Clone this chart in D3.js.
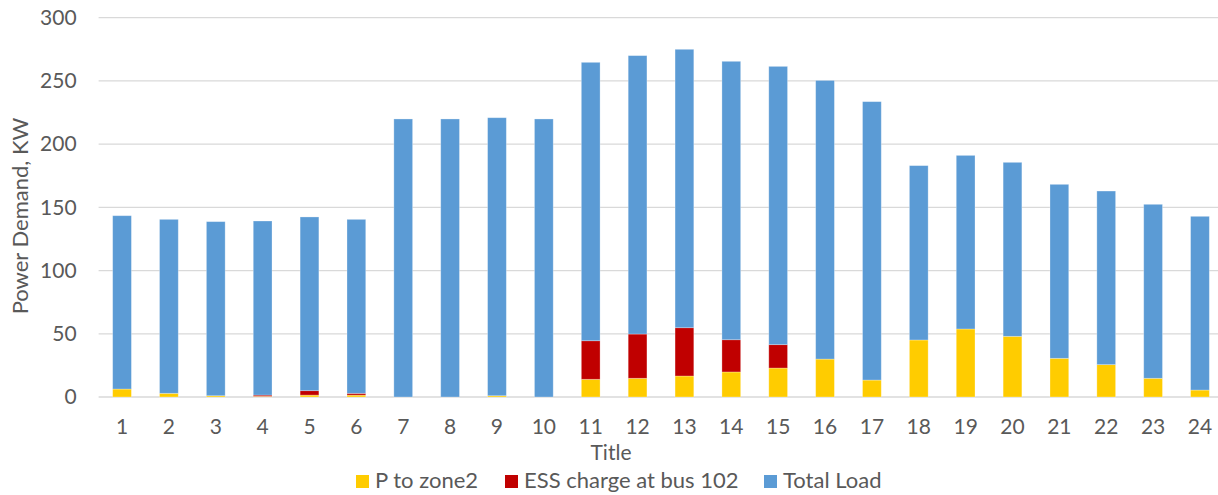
<!DOCTYPE html>
<html><head><meta charset="utf-8">
<script src="https://cdn.jsdelivr.net/npm/d3@7"></script>
<style>body{margin:0;background:#fff}svg{display:block}</style>
</head><body><svg id="c" width="1218" height="495"></svg>
<script>
const hours = ["1","2","3","4","5","6","7","8","9","10","11","12","13","14","15","16","17","18","19","20","21","22","23","24"];
const pZone2 = [6.3,2.9,1.0,0.5,1.5,1.5,0,0,1.0,0,14.0,14.8,16.6,19.8,22.9,30.0,13.4,45.1,53.8,48.0,30.6,25.6,14.8,5.5];
const essCharge = [0,0,0,1.0,3.5,1.4,0,0,0,0,30.5,35.0,38.2,25.5,18.5,0,0,0,0,0,0,0,0,0];
const totalLoad = [137.1,137.6,137.7,137.7,137.4,137.6,219.9,219.9,219.9,219.9,220.2,220.2,220.2,220.2,220.1,220.4,220.2,137.9,137.3,137.6,137.6,137.3,137.6,137.4];
const yTicks = [0,50,100,150,200,250,300];
const seriesNames = ["P to zone2","ESS charge at bus 102","Total Load"];
const colors = ["#FFCC00","#C00000","#5B9BD5"];

const svg = d3.select("#c");
const m = {left:98.6, right:1223.4, top:17.7, bottom:397};
const x = d3.scaleBand().domain(hours).range([m.left, m.right]).paddingInner(0.6).paddingOuter(0.3);
const y = d3.scaleLinear().domain([0,300]).range([m.bottom, m.top]);
const font = "Lato, 'Open Sans', sans-serif";
const txt = "#595959";

// gridlines
svg.append("g").selectAll("line").data(yTicks).join("line")
  .attr("x1", m.left).attr("x2", 1218).attr("y1", d=>y(d)).attr("y2", d=>y(d))
  .attr("stroke", "#d9d9d9").attr("stroke-width", 1.3);

// y axis labels
const ya = svg.append("g").attr("transform", `translate(${m.left-22},0)`)
  .call(d3.axisLeft(y).tickValues(yTicks).tickSize(0).tickPadding(0));
ya.select(".domain").remove();
ya.selectAll("text").attr("font-family", font).attr("font-size", 21).attr("fill", txt);

// x axis labels
const xa = svg.append("g").attr("transform", `translate(0,${m.bottom+16})`)
  .call(d3.axisBottom(x).tickSize(0).tickPadding(6));
xa.select(".domain").remove();
xa.selectAll("text").attr("font-family", font).attr("font-size", 21).attr("fill", txt);

// stacked data
const data = hours.map((h,i)=>({h, a:pZone2[i], b:essCharge[i], c:totalLoad[i]}));
const stack = d3.stack().keys(["a","b","c"])(data);
svg.append("g").selectAll("g").data(stack).join("g")
  .attr("fill", (d,i)=>colors[i])
  .selectAll("rect").data(d=>d).join("rect")
  .attr("x", d=>x(d.data.h)).attr("width", x.bandwidth())
  .attr("y", d=>y(d[1])).attr("height", d=>Math.max(0, y(d[0])-y(d[1])))
  .attr("stroke", "rgba(255,255,255,0.35)").attr("stroke-width", 0.8);

// axis titles
svg.append("text").attr("x", 611).attr("y", 460).attr("text-anchor","middle")
  .attr("font-family", font).attr("font-size", 21).attr("fill", txt).text("Title");
svg.append("text").attr("transform", "translate(28,216) rotate(-90)").attr("text-anchor","middle")
  .attr("font-family", font).attr("font-size", 22).attr("fill", txt).text("Power Demand, KW");

// legend
const legX = [356, 505, 764];
const lg = svg.append("g");
seriesNames.forEach((n,i)=>{
  lg.append("rect").attr("x", legX[i]).attr("y", 475).attr("width", 13).attr("height", 13).attr("fill", colors[i]);
  lg.append("text").attr("x", legX[i]+19).attr("y", 488).attr("font-family", font).attr("font-size", 22)
    .attr("fill", txt).text(n);
});
</script></body></html>
